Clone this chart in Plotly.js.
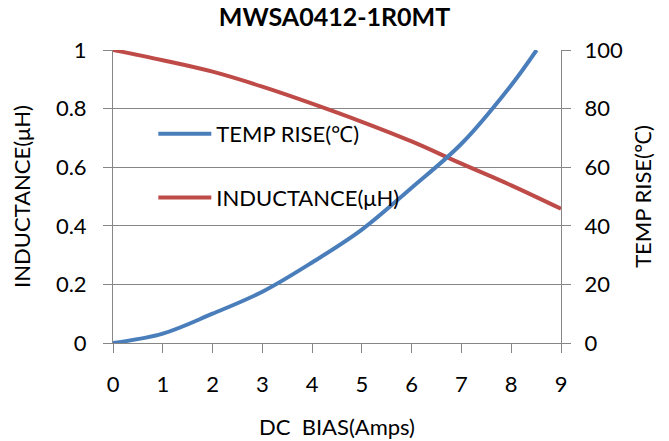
<!DOCTYPE html>
<html>
<head>
<meta charset="utf-8">
<script src="https://cdn.plot.ly/plotly-3.0.1.min.js"></script>
<style>html,body{margin:0;padding:0;background:#fff;} #chart{width:669px;height:441px;}</style>
</head>
<body>
<div id="chart"></div>
<script>
// Data
const currentAmps = [0, 1, 2, 3, 4, 5, 6, 7, 8, 8.51];
const tempRise = [0, 3.2, 10, 17.5, 27.5, 38.7, 53, 68, 88, 100];
const currentAmpsL = [0, 1, 2, 3, 4, 5, 6, 7, 8, 9];
const inductance = [1.0, 0.965, 0.926, 0.875, 0.817, 0.755, 0.688, 0.612, 0.538, 0.458];
const xTicks = [0, 1, 2, 3, 4, 5, 6, 7, 8, 9];
const yLeftTicks = [0, 0.2, 0.4, 0.6, 0.8, 1];
const yRightTicks = [0, 20, 40, 60, 80, 100];

const FONT = 'Lato, "Open Sans", sans-serif';
const AX = '#868686';
const FS = 22;

const traces = [
  {
    x: currentAmps, y: tempRise, yaxis: 'y2', name: 'TEMP RISE(℃)',
    type: 'scatter', mode: 'lines', line: {color: '#4A7EBB', width: 4, shape: 'spline'},
    legendgroup: 'a'
  },
  {
    x: currentAmpsL, y: inductance, yaxis: 'y', name: 'INDUCTANCE(μH)',
    type: 'scatter', mode: 'lines', line: {color: '#BE4B48', width: 4, shape: 'spline'},
    legendgroup: 'b'
  }
];

const layout = {
  width: 669, height: 441,
  paper_bgcolor: '#fff', plot_bgcolor: '#fff',
  margin: {l: 113, r: 108, t: 50, b: 98},
  font: {family: FONT, size: FS, color: '#000'},
  title: {text: '<b>MWSA0412-1R0MT</b>', x: 0.5, xref: 'container', y: 1 - 17/441, yref: 'container', yanchor: 'middle', font: {family: FONT, size: 25, color: '#000'}},
  showlegend: true,
  legend: {x: 0.09, y: 0.785, xanchor: 'left', yanchor: 'top', bgcolor: 'rgba(0,0,0,0)', traceorder: 'grouped', tracegroupgap: 32, itemwidth: 53, font: {family: FONT, size: FS, color: '#000'}},
  xaxis: {
    range: [0, 9], tickvals: xTicks, ticktext: xTicks.map(String),
    showgrid: false, zeroline: false, showline: true, linecolor: AX, linewidth: 1,
    ticks: 'outside', ticklen: 9, tickcolor: AX, tickfont: {size: FS}, ticklabelstandoff: 13,
    title: {text: 'DC\u00a0\u00a0BIAS(Amps)', standoff: 23, font: {size: FS}}, automargin: false
  },
  yaxis: {
    range: [0, 1], tickvals: yLeftTicks, ticktext: yLeftTicks.map(String),
    showgrid: true, gridcolor: AX, gridwidth: 1, zeroline: false, showline: true, linecolor: AX,
    ticks: 'outside', ticklen: 9, tickcolor: AX, tickfont: {size: FS}, ticklabelstandoff: 12,
    title: {text: 'INDUCTANCE(μH)', standoff: 19, font: {size: FS}}, automargin: false
  },
  yaxis2: {
    range: [0, 100], tickvals: yRightTicks, ticktext: yRightTicks.map(String),
    overlaying: 'y', side: 'right', showgrid: false, zeroline: false, showline: true, linecolor: AX,
    ticks: 'outside', ticklen: 9, tickcolor: AX, tickfont: {size: FS}, ticklabelstandoff: 9,
    title: {text: 'TEMP RISE(℃)', standoff: 13, font: {size: FS}}, automargin: false
  }
};

Plotly.newPlot('chart', traces, layout, {displayModeBar: false, staticPlot: true});
</script>
</body>
</html>
